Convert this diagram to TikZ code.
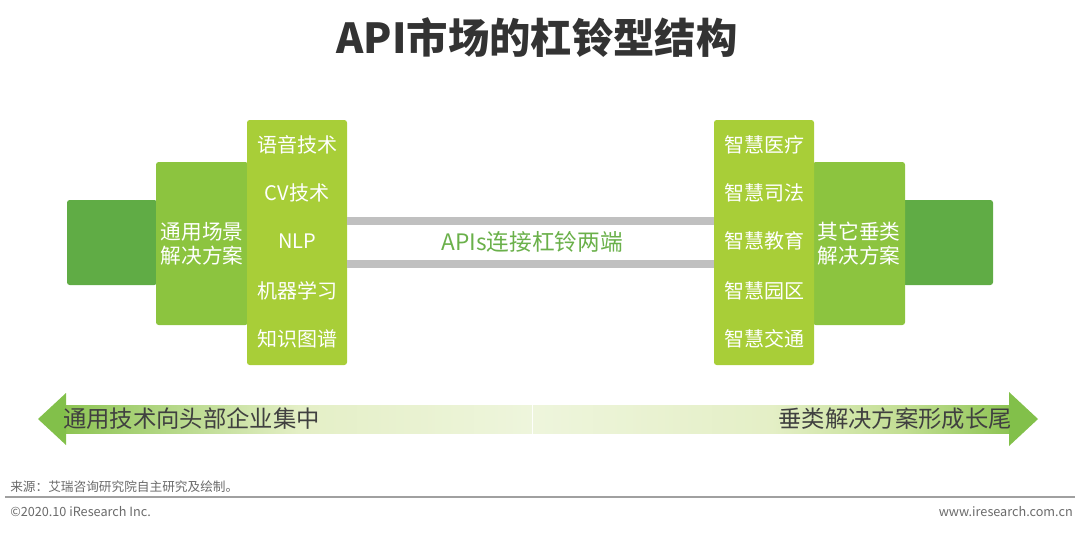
\documentclass[tikz,border=0pt]{standalone}
\usepackage{fontspec}
\setmainfont{Noto Sans CJK SC}
\def\PX{0.75pt}
\definecolor{dkgreen}{HTML}{60AC45}
\definecolor{mdgreen}{HTML}{8CC43F}
\definecolor{limegr}{HTML}{A8CE38}
\definecolor{bargray}{HTML}{C0C0C0}
\definecolor{titlecol}{HTML}{333333}
\definecolor{apigreen}{HTML}{6AB04A}
\definecolor{agreen}{HTML}{8DC453}
\definecolor{amid}{HTML}{C2DE92}
\definecolor{ahead}{HTML}{82C04A}
\definecolor{alight}{HTML}{E4EFC6}
\definecolor{alight2}{HTML}{EEF5DC}
\definecolor{txtdark}{HTML}{404040}
\definecolor{footgray}{HTML}{6A6A6A}
\definecolor{linegray}{HTML}{A0A0A0}
\pgfdeclarehorizontalshading{leftfade}{100bp}{color(0bp)=(agreen); color(25bp)=(agreen); color(50bp)=(alight); color(75bp)=(alight2); color(100bp)=(alight2)}
\pgfdeclarehorizontalshading{rightfade}{100bp}{color(0bp)=(alight2); color(25bp)=(alight2); color(50bp)=(alight); color(64bp)=(amid); color(75bp)=(agreen); color(100bp)=(agreen)}
\tikzset{
  blk/.style={rectangle, rounded corners=2pt, inner sep=0pt, draw=none},
  coltext/.style={text=white, font=\fontsize{15}{18}\selectfont, inner sep=0pt},
  midtext/.style={text=white, font=\fontsize{15.5}{18}\selectfont, align=center, inner sep=0pt},
  bar/.style={draw=bargray, line width=8*\PX},
  arrtext/.style={text=txtdark, font=\fontsize{17.5}{20}\selectfont, inner sep=0pt},
  foot/.style={text=footgray, font=\fontsize{9.5}{11}\selectfont, inner sep=0pt}
}
\begin{document}
\begin{tikzpicture}[x=0.75pt, y=-0.75pt]
\useasboundingbox (0,0) rectangle (1080,533);
% title
\node[text=titlecol, font=\fontsize{31}{36}\selectfont\bfseries, inner sep=0pt] (title) at (537,38) {API市场的杠铃型结构};
% left bell
\node[blk, fill=dkgreen, minimum width=90*\PX, minimum height=85*\PX] (ldark) at (112,242.5) {};
\node[blk, fill=mdgreen, minimum width=92*\PX, minimum height=163*\PX] (lmid) at (202,243.5) {};
\node[blk, fill=limegr, minimum width=100*\PX, minimum height=245*\PX] (llime) at (297,242.5) {};
\node[midtext] (lmidt) at (lmid) {通用场景\\解决方案};
\node[coltext] (l1) at (297,145) {语音技术};
\node[coltext] (l2) at (297,193) {CV技术};
\node[coltext] (l3) at (297,241) {NLP};
\node[coltext] (l4) at (297,291) {机器学习};
\node[coltext] (l5) at (297,339) {知识图谱};
% right bell
\node[blk, fill=dkgreen, minimum width=90*\PX, minimum height=85*\PX] (rdark) at (948,242.5) {};
\node[blk, fill=mdgreen, minimum width=92*\PX, minimum height=163*\PX] (rmid) at (859,243.5) {};
\node[blk, fill=limegr, minimum width=100*\PX, minimum height=245*\PX] (rlime) at (764,242.5) {};
\node[midtext] (rmidt) at (rmid) {其它垂类\\解决方案};
\node[coltext] (r1) at (764,145) {智慧医疗};
\node[coltext] (r2) at (764,193) {智慧司法};
\node[coltext] (r3) at (764,241) {智慧教育};
\node[coltext] (r4) at (764,291) {智慧园区};
\node[coltext] (r5) at (764,339) {智慧交通};
% bars
\coordinate (ya) at (0,221);
\coordinate (yb) at (0,264);
\draw[bar] (llime.east |- ya) -- (rlime.west |- ya);
\draw[bar] (llime.east |- yb) -- (rlime.west |- yb);
\node[text=apigreen, font=\fontsize{17}{20}\selectfont, inner sep=0pt] (api) at (532,242) {APIs连接杠铃两端};
% bottom arrows
\shade[shading=leftfade] (65,405) rectangle (532,433);
\fill[ahead] (38,419) -- (66,393) -- (66,445) -- cycle;
\shade[shading=rightfade] (533,405) rectangle (1010,433);
\fill[ahead] (1038,419) -- (1009,392) -- (1009,446) -- cycle;
\node[arrtext, anchor=west] (lt) at (63,419) {通用技术向头部企业集中};
\node[arrtext, anchor=east] (rt) at (1012,419) {垂类解决方案形成长尾};
% footer
\node[foot, anchor=west] (src) at (10,487) {来源：艾瑞咨询研究院自主研究及绘制。};
\coordinate (fl) at (5,497);
\coordinate (fr) at (1075,497);
\draw[draw=linegray, line width=1.5*\PX] (fl) -- (fr);
\node[foot, anchor=west] (copy) at (10,512) {©2020.10 iResearch Inc.};
\node[foot, anchor=east] (web) at (1073,512) {www.iresearch.com.cn};
\end{tikzpicture}
\end{document}
